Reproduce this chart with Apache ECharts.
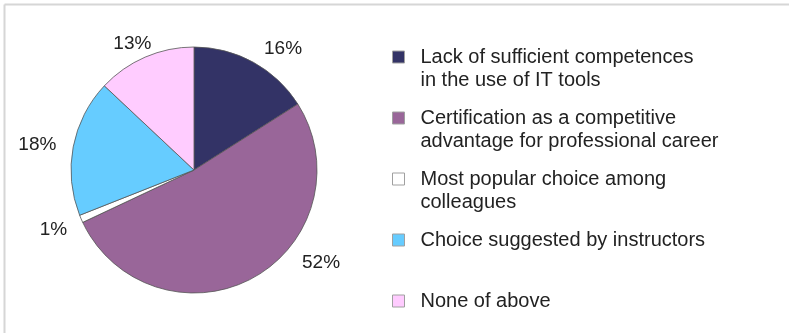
<!DOCTYPE html>
<html>
<head>
<meta charset="utf-8">
<script src="https://cdn.jsdelivr.net/npm/echarts@6/dist/echarts.min.js"></script>
<style>
html, body { margin: 0; padding: 0; background: #fff; }
#chart { width: 789px; height: 333px; }
</style>
</head>
<body>
<div id="chart"></div>
<script>
// reasons for choosing certification, share of answers in %
var categories = [
	"Lack of sufficient competences\nin the use of IT tools",
	"Certification as a competitive\nadvantage for professional career",
	"Most popular choice among\ncolleagues",
	"Choice suggested by instructors",
	"None of above"
]
var shares = [16, 52, 1, 18, 13]
var colors = ["#333366", "#996699", "#ffffff", "#66ccff", "#ffccff"]

// small nudges so the percent labels sit where the original office chart put them
var labelNudge = [[0, -3], [38, -26], [2, 6], [0, 0], [16, -2]]

var font = "Liberation Sans, Arial, Helvetica, sans-serif", lh = 23
var chart = echarts.init(document.getElementById("chart"), null, {renderer: "canvas"})

// one legend per entry: the marker lines up with the first text line, as in the original
var legends = categories.map(function(name, i) {
	var lines = name.split("\n").length, total = lines > 1 ? lines + 1 : 1
	var c = 57 + i*61
	return {
		data: [name], orient: "vertical", left: 392, top: c - total*lh/2, padding: 0,
		icon: "rect", itemWidth: 12, itemHeight: 12, selectedMode: false,
		itemStyle: {borderColor: "#a0a0a0", borderWidth: 1},
		formatter: function(n) { return lines > 1 ? "\n" + n : n },
		textStyle: {fontFamily: font, fontSize: 20, color: "#222", lineHeight: lh, padding: [0, 0, 0, 11]},
	}
})

chart.setOption({
	animation: false,
	legend: legends,
	graphic: [
		{type: "line", shape: {x1: 4.5, y1: 4.5, x2: 789, y2: 4.5}, style: {stroke: "#d6d6d6", lineWidth: 2}},
		{type: "line", shape: {x1: 4.5, y1: 4.5, x2: 4.5, y2: 333}, style: {stroke: "#d6d6d6", lineWidth: 2}},
	],
	series: [{
		type: "pie", center: [194, 170], radius: 123, startAngle: 90, clockwise: true,
		avoidLabelOverlap: false,
		itemStyle: {borderColor: "#555", borderWidth: 0.8},
		label: {show: true, position: "outside", formatter: "{c}%", fontFamily: font, fontSize: 19, color: "#222"},
		labelLine: {show: false, length: 12, length2: 0},
		labelLayout: function(p) { var n = labelNudge[p.dataIndex]; return {dx: n[0], dy: n[1]} },
		emphasis: {disabled: true},
		data: categories.map(function(name, i) { return {name: name, value: shares[i], itemStyle: {color: colors[i]}} }),
	}],
})
</script>
</body>
</html>
